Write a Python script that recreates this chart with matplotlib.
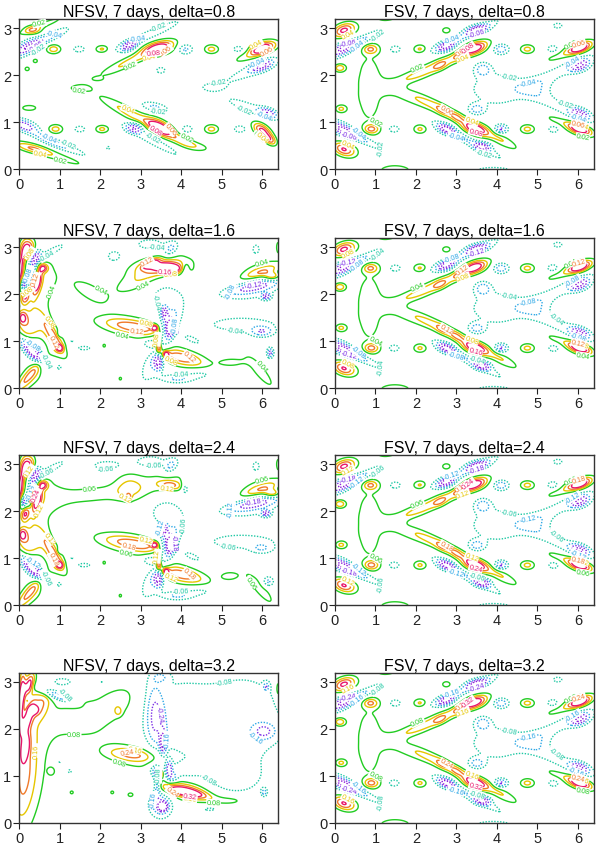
import numpy as np
import matplotlib
matplotlib.use("Agg")
import matplotlib.pyplot as plt

plt.rcParams['font.family'] = ['Liberation Sans', 'DejaVu Sans']

# ---------------- data ----------------
deltas = [0.8, 1.6, 2.4, 3.2]
level_steps = [0.02, 0.04, 0.06, 0.08]          # contour interval per delta
level_index = [-4, -3, -2, -1, 1, 2, 3, 4]       # contour levels in units of the interval
level_colors = ['#8e1ad8', '#7b2ee6', '#2ea8e6', '#1fc8a4',
                '#22cc22', '#e6c600', '#f07a2a', '#e8166a']
x_ticks = [0, 1, 2, 3, 4, 5, 6]
y_ticks = [0, 1, 2, 3]
titles_left = ["NFSV, 7 days, delta=0.8", "NFSV, 7 days, delta=1.6",
               "NFSV, 7 days, delta=2.4", "NFSV, 7 days, delta=3.2"]
titles_right = ["FSV, 7 days, delta=0.8", "FSV, 7 days, delta=1.6",
                "FSV, 7 days, delta=2.4", "FSV, 7 days, delta=3.2"]

# features of each field: (x, y, amplitude in contour intervals, length, width, angle in degrees)
FSV_features = [
    (0.88, 2.55, 2.6, 0.13, 0.07, 0), (1.48, 2.55, -1.7, 0.13, 0.07, 0),
    (2.10, 2.55, 2.2, 0.12, 0.07, 0), (2.75, 2.60, -3.4, 0.17, 0.08, 15),
    (3.45, 2.57, 4.2, 0.22, 0.09, 15), (4.10, 2.55, -2.7, 0.14, 0.08, 0),
    (4.75, 2.55, 2.4, 0.13, 0.07, 0), (5.38, 2.55, -1.7, 0.12, 0.07, 0),
    (6.05, 2.58, 4.4, 0.20, 0.08, 15),
    (0.22, 2.95, 4.3, 0.20, 0.10, 15), (3.50, 2.97, -3.3, 0.20, 0.07, 10),
    (2.75, 2.95, 1.5, 0.10, 0.06, 0), (5.50, 3.05, -1.4, 0.12, 0.06, 0),
    (0.12, 2.15, 2.8, 0.10, 0.06, 0), (3.65, 2.12, -2.4, 0.14, 0.10, 0),
    (6.05, 2.20, -3.4, 0.18, 0.09, 15),
    (0.18, 2.55, -3.9, 0.30, 0.10, 20), (0.80, 2.80, -2.2, 0.40, 0.07, 22),
    (2.70, 2.27, 2.3, 0.70, 0.09, 21), (2.60, 2.20, 1.2, 0.12, 0.06, 21),
    (3.05, 2.40, 1.2, 0.12, 0.06, 21), (3.20, 2.83, -2.1, 0.70, 0.07, 21),
    (5.60, 2.10, -1.4, 0.80, 0.12, 22), (5.75, 2.48, 1.7, 0.50, 0.08, 18),
    (0.18, 0.85, -3.9, 0.30, 0.10, -20), (0.90, 0.85, 2.8, 0.13, 0.07, 0),
    (1.45, 0.85, -1.7, 0.13, 0.07, 0), (2.10, 0.85, 2.2, 0.12, 0.07, 0),
    (2.75, 0.85, -3.4, 0.17, 0.08, -15), (3.45, 0.85, 4.2, 0.22, 0.09, -15),
    (4.10, 0.85, -3.2, 0.12, 0.07, 0), (4.75, 0.85, 2.4, 0.13, 0.07, 0),
    (5.40, 0.85, -1.6, 0.12, 0.07, 0), (6.05, 0.85, 4.4, 0.20, 0.08, -15),
    (0.22, 0.42, 4.1, 0.20, 0.10, -15), (3.65, 0.48, -3.2, 0.15, 0.07, 0),
    (0.15, 1.28, 2.2, 0.10, 0.06, 0), (3.50, 1.27, -2.3, 0.14, 0.08, 0),
    (6.05, 1.18, -3.3, 0.18, 0.08, -15),
    (0.75, 0.60, -2.2, 0.40, 0.07, -22), (2.80, 1.20, 2.3, 0.75, 0.09, -24),
    (2.65, 1.25, 1.2, 0.12, 0.06, -24), (3.00, 1.10, 1.2, 0.12, 0.06, -24),
    (4.10, 0.62, 1.7, 0.35, 0.08, -24), (3.30, 0.60, -2.1, 0.70, 0.07, -24),
    (5.60, 1.30, -1.4, 0.80, 0.12, -22), (5.75, 0.95, 1.7, 0.50, 0.08, -18),
    (0.85, 1.72, 1.35, 0.33, 0.80, 0), (1.85, 1.95, 1.15, 0.50, 0.10, 17),
    (1.85, 1.50, 1.15, 0.50, 0.10, -17), (3.95, 1.70, -1.45, 0.60, 0.30, 0),
    (5.00, 1.72, -1.15, 0.30, 0.15, 0), (1.50, -0.05, 1.6, 0.35, 0.12, 0),
    (3.90, -0.05, -1.4, 0.50, 0.10, 0), (1.30, 3.25, 1.4, 0.25, 0.10, 0),
]

NFSV08_features = [
    (0.35, 2.95, 2.3, 0.15, 0.07, 0), (0.18, 2.58, -3.5, 0.28, 0.10, 25),
    (0.75, 2.80, -2.2, 0.40, 0.07, 22), (0.85, 2.55, 2.6, 0.13, 0.07, 0),
    (0.40, 2.30, 1.3, 0.07, 0.05, 0), (0.20, 2.13, 1.3, 0.07, 0.05, 0),
    (1.48, 2.55, -1.6, 0.13, 0.06, 0), (2.05, 2.55, 2.2, 0.12, 0.06, 0),
    (2.72, 2.62, -3.3, 0.15, 0.08, 20), (3.20, 2.85, -2.0, 0.65, 0.07, 21),
    (2.75, 2.30, 2.3, 0.60, 0.08, 22), (3.45, 2.57, 4.6, 0.28, 0.10, 10),
    (4.10, 2.55, -2.3, 0.14, 0.08, 0), (4.75, 2.55, 2.4, 0.13, 0.07, 0),
    (5.42, 2.55, -1.6, 0.12, 0.06, 0), (6.00, 2.58, 4.5, 0.22, 0.09, 15),
    (5.80, 2.45, 1.6, 0.45, 0.08, 18), (6.00, 2.20, -3.3, 0.20, 0.08, 15),
    (5.70, 2.08, -1.5, 0.60, 0.10, 20), (3.50, 2.10, -1.4, 0.12, 0.07, 0),
    (1.50, 1.72, 1.25, 0.25, 0.06, 0), (4.80, 1.75, -1.3, 0.25, 0.07, 0),
    (0.25, 1.30, 1.3, 0.22, 0.07, 0), (2.85, 1.13, 2.5, 0.70, 0.09, -25),
    (3.50, 0.88, 4.6, 0.25, 0.10, -25), (4.05, 0.60, 2.0, 0.20, 0.07, -20),
    (4.40, 0.48, 1.4, 0.25, 0.07, -10), (2.85, 0.88, -3.3, 0.15, 0.08, 0),
    (3.30, 0.60, -1.8, 0.60, 0.07, -25), (4.15, 0.85, -1.6, 0.12, 0.07, 0),
    (3.35, 1.32, -2.2, 0.25, 0.07, -10), (4.75, 0.85, 2.4, 0.13, 0.07, 0),
    (5.45, 0.85, -1.8, 0.12, 0.06, 0), (6.00, 0.82, 4.3, 0.18, 0.09, -30),
    (6.20, 0.62, 3.0, 0.12, 0.07, -30), (5.70, 1.30, -1.6, 0.55, 0.09, -18),
    (6.15, 1.20, -3.0, 0.16, 0.07, -15), (0.90, 0.85, 2.5, 0.13, 0.07, 0),
    (0.12, 0.93, -3.5, 0.25, 0.09, -15), (0.70, 0.62, -2.2, 0.35, 0.07, -22),
    (1.50, 0.85, -1.6, 0.12, 0.06, 0), (2.05, 0.85, 2.3, 0.12, 0.06, 0),
    (0.30, 0.45, 2.5, 0.35, 0.07, -12), (1.00, 0.25, 1.4, 0.60, 0.07, -15),
    (1.30, 0.42, -1.4, 0.40, 0.06, -20), (2.20, 0.45, -1.3, 0.05, 0.04, 0),
    (0.55, 3.05, 1.4, 0.55, 0.06, 18), (1.95, 1.92, 1.3, 0.10, 0.03, 0),
]

NFSV16_features = [
    (0.22, 2.95, 4.4, 0.12, 0.16, 0), (0.02, 2.50, 4.5, 0.30, 0.07, 80),
    (0.30, 2.45, -3.7, 0.35, 0.08, 70), (0.45, 2.25, 4.2, 0.20, 0.07, 75),
    (0.15, 1.95, 4.2, 0.12, 0.07, 70), (0.10, 2.20, -3.5, 0.05, 0.08, 0),
    (0.60, 2.55, 3.1, 0.08, 0.06, 0), (0.35, 2.80, -3.3, 0.12, 0.08, 30),
    (0.75, 2.88, -2.2, 0.35, 0.07, 25), (0.55, 2.20, 1.3, 0.60, 0.40, 70),
    (0.08, 1.50, 3.3, 0.08, 0.10, 0), (0.20, 1.25, 2.3, 0.25, 0.20, 60),
    (0.85, 1.10, 2.3, 0.30, 0.08, -55), (1.00, 0.85, 3.3, 0.06, 0.05, 0),
    (0.70, 1.20, 1.3, 0.50, 0.18, -55),
    (0.30, 0.80, -3.6, 0.30, 0.08, -40), (0.45, 0.70, -2.2, 0.40, 0.15, -40),
    (0.25, 0.25, 2.3, 0.35, 0.08, 45), (0.45, 0.40, 1.4, 0.50, 0.20, 45),
    (1.75, 2.05, 1.4, 0.40, 0.16, -25), (2.85, 2.25, 1.35, 0.45, 0.14, 20),
    (3.25, 2.65, 3.3, 0.15, 0.05, 20), (3.75, 2.55, 3.3, 0.25, 0.07, -5),
    (3.50, 2.58, 2.3, 0.45, 0.12, 5), (3.50, 2.55, 1.4, 0.60, 0.25, 10),
    (3.25, 3.05, -1.5, 0.35, 0.12, 0), (3.75, 2.95, -2.3, 0.15, 0.10, 40),
    (4.10, 2.50, -2.3, 0.07, 0.10, 0), (3.60, 2.00, -1.45, 0.35, 0.30, 0),
    (2.85, 1.30, 2.4, 0.55, 0.10, -8), (2.80, 1.30, 1.4, 0.70, 0.20, -8),
    (3.35, 1.28, 4.2, 0.05, 0.04, 0), (3.45, 1.00, 4.3, 0.04, 0.12, 0),
    (3.45, 0.82, 3.3, 0.06, 0.08, 0), (3.72, 1.25, -3.5, 0.07, 0.15, 0),
    (3.58, 1.60, -3.3, 0.06, 0.10, 0), (3.70, 1.35, -2.2, 0.15, 0.35, -30),
    (3.45, 0.55, -3.5, 0.08, 0.14, 0), (3.35, 0.65, -2.2, 0.15, 0.40, -30),
    (3.20, 0.95, -2.2, 0.12, 0.07, 0), (4.00, 0.65, 2.3, 0.40, 0.10, -12),
    (3.62, 0.72, 3.6, 0.06, 0.05, 0), (4.00, 0.65, 1.4, 0.55, 0.18, -12),
    (4.20, 1.05, -1.4, 0.40, 0.10, -20), (3.90, 0.20, -2.2, 0.30, 0.07, 0),
    (4.50, 0.30, -1.4, 0.30, 0.08, 0),
    (5.50, 1.35, -1.45, 0.80, 0.15, 0), (6.00, 1.20, -2.4, 0.20, 0.08, 0),
    (6.20, 0.75, -3.3, 0.06, 0.08, 0), (6.25, 2.38, 3.2, 0.14, 0.06, 0),
    (5.95, 2.45, 2.3, 0.35, 0.07, 15), (5.95, 2.55, 1.4, 0.45, 0.12, 15),
    (5.80, 2.15, -2.3, 0.50, 0.08, 10), (6.10, 1.95, -3.3, 0.08, 0.05, 0),
    (5.80, 2.10, -1.4, 0.60, 0.20, 10), (5.25, 0.55, 1.4, 0.25, 0.07, 0),
    (5.95, 0.35, 1.4, 0.45, 0.12, -45),
    (1.60, 0.85, -1.3, 0.20, 0.05, 0), (1.00, 1.15, -1.3, 0.05, 0.05, 0),
    (1.30, 1.00, -1.3, 0.05, 0.05, 0), (2.10, 0.90, 1.3, 0.04, 0.04, 0),
    (1.00, 0.45, -1.3, 0.05, 0.05, 0), (2.50, 0.20, 1.3, 0.04, 0.04, 0),
    (2.35, 2.80, -1.4, 0.18, 0.12, 0), (5.85, 2.95, -1.3, 0.10, 0.12, 0),
    (6.40, 3.00, 1.4, 0.05, 0.12, 0), (6.40, 1.50, 1.4, 0.05, 0.12, 0),
]

NFSV24_features = [
    (0.22, 2.95, 4.4, 0.12, 0.16, 0), (0.02, 2.50, 4.5, 0.30, 0.07, 80),
    (0.30, 2.45, -3.7, 0.35, 0.08, 70), (0.45, 2.25, 4.2, 0.20, 0.07, 75),
    (0.15, 1.95, 4.2, 0.12, 0.07, 70), (0.10, 2.20, -3.5, 0.05, 0.08, 0),
    (0.60, 2.55, 3.1, 0.08, 0.06, 0), (0.35, 2.80, -3.3, 0.12, 0.08, 30),
    (0.75, 2.88, -2.2, 0.35, 0.07, 25), (0.55, 2.20, 1.3, 0.60, 0.40, 70),
    (0.08, 1.50, 3.3, 0.08, 0.10, 0), (0.20, 1.25, 2.3, 0.25, 0.20, 60),
    (0.85, 1.10, 2.3, 0.30, 0.08, -55), (1.00, 0.85, 3.3, 0.06, 0.05, 0),
    (0.70, 1.20, 1.3, 0.50, 0.18, -55),
    (0.30, 0.80, -3.6, 0.30, 0.08, -40), (0.45, 0.70, -2.2, 0.40, 0.15, -40),
    (0.25, 0.25, 2.3, 0.35, 0.08, 45), (0.45, 0.40, 1.4, 0.50, 0.20, 45),
    (1.80, 2.35, 1.4, 0.80, 0.15, 5), (2.70, 2.55, 1.4, 0.25, 0.25, 0),
    (2.70, 2.30, 2.2, 0.05, 0.05, 0), (2.20, 2.97, -1.4, 0.40, 0.10, 0),
    (3.75, 2.55, 2.4, 0.22, 0.07, -5), (3.50, 2.58, 1.4, 0.60, 0.22, 10),
    (3.25, 3.05, -1.5, 0.35, 0.12, 0), (3.75, 2.95, -2.3, 0.15, 0.10, 40),
    (4.10, 2.50, -2.3, 0.07, 0.10, 0), (3.60, 2.00, -1.45, 0.35, 0.30, 0),
    (2.85, 1.30, 2.4, 0.55, 0.10, -8), (2.80, 1.30, 1.4, 0.70, 0.20, -8),
    (3.35, 1.28, 4.2, 0.05, 0.04, 0), (3.45, 1.00, 4.3, 0.04, 0.12, 0),
    (3.45, 0.82, 3.3, 0.06, 0.08, 0), (3.72, 1.25, -3.5, 0.07, 0.15, 0),
    (3.58, 1.60, -3.3, 0.06, 0.10, 0), (3.70, 1.35, -2.2, 0.15, 0.35, -30),
    (3.45, 0.55, -3.5, 0.08, 0.14, 0), (3.35, 0.65, -2.2, 0.15, 0.40, -30),
    (3.20, 0.95, -2.2, 0.12, 0.07, 0), (4.00, 0.65, 2.3, 0.40, 0.10, -12),
    (3.62, 0.72, 3.6, 0.06, 0.05, 0), (4.00, 0.65, 1.4, 0.55, 0.18, -12),
    (4.20, 1.05, -1.4, 0.40, 0.10, -20), (3.90, 0.20, -2.2, 0.30, 0.07, 0),
    (4.50, 0.30, -1.4, 0.30, 0.08, 0),
    (5.50, 1.35, -1.45, 0.80, 0.15, 0), (6.00, 1.20, -1.5, 0.20, 0.08, 0),
    (6.15, 0.50, -2.3, 0.10, 0.08, 0), (6.25, 2.38, 3.2, 0.14, 0.06, 0),
    (5.95, 2.45, 2.3, 0.35, 0.07, 15), (5.95, 2.55, 1.4, 0.45, 0.12, 15),
    (5.80, 2.15, -2.3, 0.50, 0.08, 10), (6.10, 1.95, -3.3, 0.08, 0.05, 0),
    (5.80, 2.10, -1.4, 0.60, 0.20, 10), (5.20, 0.62, 1.4, 0.20, 0.08, 0),
    (5.95, 0.35, 1.4, 0.45, 0.12, -45),
    (1.60, 0.85, -1.3, 0.20, 0.05, 0), (1.00, 1.15, -1.3, 0.05, 0.05, 0),
    (1.30, 1.00, -1.3, 0.05, 0.05, 0), (2.10, 0.90, 1.3, 0.04, 0.04, 0),
    (1.00, 0.45, -1.3, 0.05, 0.05, 0), (2.50, 0.20, 1.3, 0.04, 0.04, 0),
    (5.85, 2.95, -1.3, 0.10, 0.12, 0),
    (6.40, 3.00, 1.4, 0.05, 0.12, 0), (6.40, 1.50, 1.4, 0.05, 0.12, 0),
]

NFSV32_features = [
    (0.05, 2.65, 4.7, 0.45, 0.06, 85), (0.25, 2.95, 4.4, 0.18, 0.08, 70),
    (0.15, 1.60, 4.4, 0.18, 0.06, 80), (0.20, 2.20, 3.3, 0.30, 0.08, 70),
    (0.90, 2.72, -3.3, 0.30, 0.07, -20), (0.55, 2.55, 2.3, 0.25, 0.15, 60),
    (0.35, 2.40, 3.2, 0.08, 0.06, 0), (0.10, 1.00, 2.2, 0.80, 0.20, 85),
    (0.30, 1.20, 1.4, 1.00, 0.35, 85), (1.00, 3.00, -1.4, 0.30, 0.10, 0),
    (1.60, 2.25, 1.5, 0.80, 0.35, 10), (2.50, 2.70, 1.5, 0.30, 0.25, 50),
    (2.20, 2.98, -1.4, 0.45, 0.12, 0),
    (3.80, 2.20, -1.5, 0.70, 0.70, 0), (3.35, 2.30, -2.3, 0.15, 0.50, 0),
    (3.55, 1.70, -3.3, 0.06, 0.20, 0), (3.50, 3.10, -1.4, 0.15, 0.08, 0),
    (2.80, 1.45, 2.3, 0.45, 0.10, -5), (2.90, 1.40, 1.4, 0.65, 0.25, -15),
    (3.50, 1.05, 4.4, 0.04, 0.06, 0), (3.40, 0.85, -3.3, 0.06, 0.20, 0),
    (3.70, 1.15, -3.3, 0.06, 0.15, 0), (3.35, 1.10, -2.3, 0.12, 0.10, 0),
    (3.80, 0.95, -2.3, 0.10, 0.08, 0), (4.00, 1.10, -1.4, 0.30, 0.15, 0),
    (4.15, 0.65, 3.3, 0.35, 0.06, -10), (4.10, 0.70, 2.3, 0.45, 0.12, -10),
    (4.05, 0.70, 1.4, 0.60, 0.20, -10), (3.55, 0.35, -4.3, 0.07, 0.06, 0),
    (3.50, 0.40, -3.3, 0.20, 0.20, -30),
    (5.60, 2.20, -1.5, 0.90, 0.90, 0), (6.05, 1.95, -2.3, 0.20, 0.12, 0),
    (6.10, 2.90, -2.2, 0.05, 0.06, 0), (5.20, 0.95, -1.4, 0.50, 0.25, 0),
    (5.25, 0.48, 1.4, 0.35, 0.08, 0), (6.05, 0.65, -2.2, 0.05, 0.06, 0),
    (1.00, 1.30, -1.3, 0.06, 0.07, 0), (1.25, 1.10, -1.3, 0.05, 0.05, 0),
    (0.80, 1.10, 1.3, 0.06, 0.06, 0), (1.30, 0.65, 1.3, 0.05, 0.04, 0),
    (2.30, 0.65, 1.3, 0.05, 0.04, 0), (2.45, 2.37, 1.3, 0.06, 0.06, 0),
    (2.75, 0.60, 1.3, 0.08, 0.05, 0), (4.70, 0.30, -1.3, 0.25, 0.06, 0),
    (6.40, 2.85, 2.3, 0.05, 0.15, 0), (6.40, 1.30, 1.4, 0.05, 0.12, 0),
]

NFSV_panels = [NFSV08_features, NFSV16_features, NFSV24_features, NFSV32_features]

# ---------------- build fields ----------------
xg = np.linspace(0, 6.4, 321)
yg = np.linspace(0, 3.2, 161)
X, Y = np.meshgrid(xg, yg)


def build_field(features, step):
    Z = np.zeros_like(X)
    for (x0, y0, a, sx, sy, ang) in features:
        t = np.deg2rad(ang)
        c, s = np.cos(t), np.sin(t)
        dx = X - x0
        dy = Y - y0
        u = dx * c + dy * s
        v = -dx * s + dy * c
        Z += a * np.exp(-0.5 * ((u / sx) ** 2 + (v / sy) ** 2))
    return Z * step


# ---------------- figure ----------------
fig = plt.figure(figsize=(5.96, 8.45), dpi=100)
lefts = [0.032, 0.562]
width = 0.435
bottoms = [0.7988, 0.5396, 0.2828, 0.0249]
height = 0.1780


def draw_panel(ax, Z, step, title):
    lv = [step * k for k in level_index]
    styles = ['solid' if k > 0 else (0, (1.0, 1.1)) for k in level_index]
    cs = ax.contour(X, Y, Z, levels=lv, colors=level_colors,
                    linestyles=styles, linewidths=1.0)
    labels = ax.clabel(cs, fmt=lambda v: f"{v:.2f}", fontsize=5.2,
                       inline=False)
    for t in list(labels):
        px, py = t.get_position()
        if px < 0.22 or px > 6.15 or py < 0.1 or py > 3.1:
            t.remove()
        else:
            t.set_bbox(dict(facecolor='white', edgecolor='none', pad=0.2))
    ax.set_xlim(0, 6.4)
    ax.set_ylim(0, 3.2)
    ax.set_xticks(x_ticks)
    ax.set_yticks(y_ticks)
    ax.tick_params(direction='out', length=4, width=0.8, labelsize=10.5,
                   pad=1.5, colors='#222222')
    for sp in ax.spines.values():
        sp.set_linewidth(1.0)
        sp.set_color('#333333')
    ax.set_title(title, fontsize=11.5, pad=2)


for i, d in enumerate(deltas):
    step = level_steps[i]
    axl = fig.add_axes([lefts[0], bottoms[i], width, height])
    draw_panel(axl, build_field(NFSV_panels[i], step), step, titles_left[i])
    axr = fig.add_axes([lefts[1], bottoms[i], width, height])
    draw_panel(axr, build_field(FSV_features, step), step, titles_right[i])

fig.savefig("out.png", dpi=100)
